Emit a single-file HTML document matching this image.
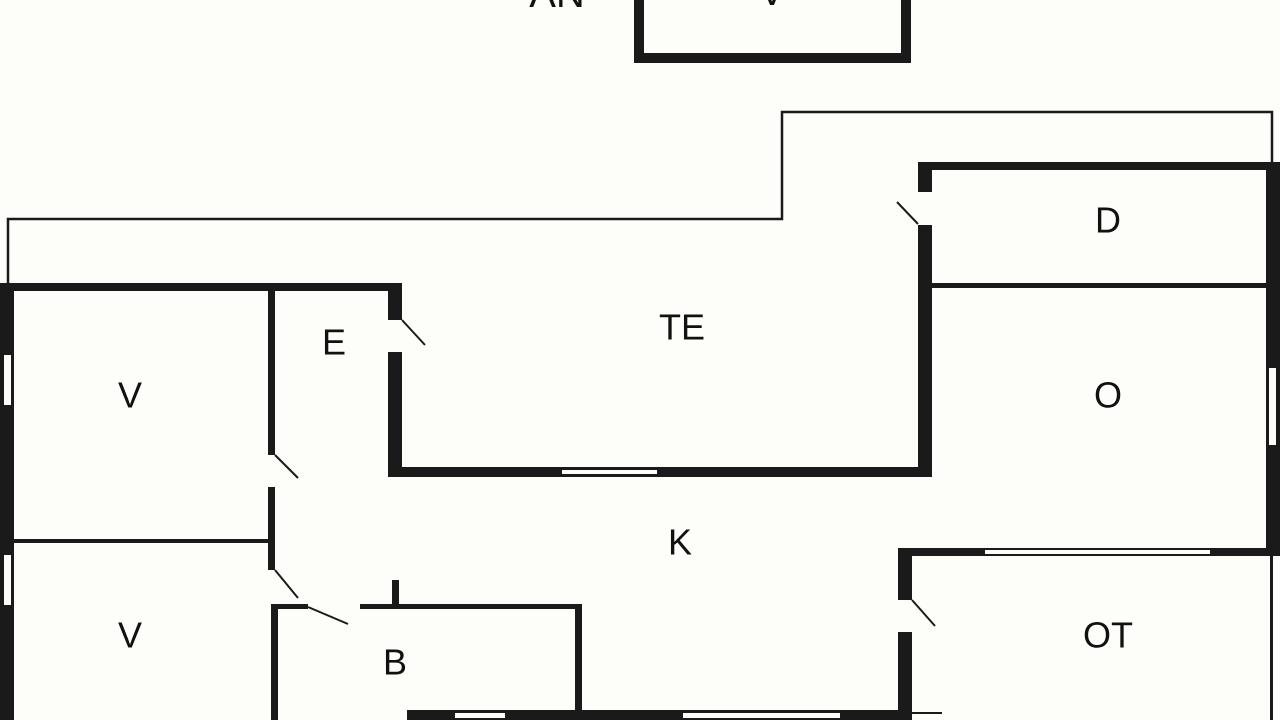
<!DOCTYPE html>
<html><head><style>
html,body{margin:0;padding:0;background:#fdfdfa;}
svg{display:block}
text{font-family:"Liberation Sans",sans-serif;font-size:36px;fill:#111;text-anchor:middle;dominant-baseline:central}
</style></head><body>
<svg width="1280" height="720" viewBox="0 0 1280 720" xmlns="http://www.w3.org/2000/svg">
<rect width="1280" height="720" fill="#fdfdfa"/>
<path d="M639 0 V58 H906 V0" fill="none" stroke="#1a1a1a" stroke-width="10"/>
<text x="557" y="-6" style="font-size:40px">AN</text>
<text x="772" y="-8" style="font-size:40px">V</text>
<path d="M8 283 V219 H782 V112 H1272 V162" fill="none" stroke="#1a1a1a" stroke-width="2.5"/>
<g fill="#1a1a1a">
<rect x="0" y="283" width="402" height="8"/>
<rect x="0" y="283" width="14" height="437"/>
<rect x="268" y="291" width="7" height="164"/>
<rect x="268" y="487" width="7" height="83"/>
<rect x="271" y="604" width="7" height="116"/>
<rect x="14" y="539" width="256" height="4"/>
<rect x="388" y="283" width="14" height="37"/>
<rect x="388" y="352" width="14" height="125"/>
<rect x="388" y="467" width="544" height="10"/>
<rect x="918" y="162" width="14" height="30"/>
<rect x="918" y="225" width="14" height="252"/>
<rect x="918" y="162" width="362" height="8"/>
<rect x="1266" y="162" width="14" height="394"/>
<rect x="932" y="283" width="334" height="5"/>
<rect x="898" y="548" width="382" height="8"/>
<rect x="898" y="548" width="14" height="52"/>
<rect x="898" y="632" width="14" height="88"/>
<rect x="1270" y="556" width="3" height="164"/>
<rect x="271" y="604" width="37" height="5"/>
<rect x="360" y="604" width="222" height="5"/>
<rect x="392" y="580" width="7" height="25"/>
<rect x="575" y="604" width="7" height="108"/>
<rect x="407" y="710" width="505" height="10"/>
<rect x="912" y="712" width="30" height="2"/>
</g>
<g fill="#fdfdfa">
<rect x="4" y="355" width="7" height="50"/>
<rect x="4" y="555" width="7" height="50"/>
<rect x="562" y="470" width="95" height="4"/>
<rect x="1269" y="368" width="7" height="77"/>
<rect x="985" y="550" width="225" height="4"/>
<rect x="455" y="713" width="50" height="5"/>
<rect x="683" y="713" width="157" height="5"/>
</g>
<g stroke="#1a1a1a" stroke-width="2" fill="none">
<line x1="275" y1="455" x2="298" y2="478"/>
<line x1="275" y1="570" x2="298" y2="598"/>
<line x1="402" y1="320" x2="425" y2="345"/>
<line x1="897" y1="202" x2="918" y2="224"/>
<line x1="912" y1="600" x2="935" y2="626"/>
<line x1="308" y1="607" x2="348" y2="624"/>
</g>
<text x="130" y="395">V</text>
<text x="130" y="635">V</text>
<text x="334" y="342">E</text>
<text x="682" y="327">TE</text>
<text x="1108" y="220">D</text>
<text x="1108" y="395">O</text>
<text x="680" y="542">K</text>
<text x="395" y="662">B</text>
<text x="1108" y="635">OT</text>
</svg>
</body></html>
